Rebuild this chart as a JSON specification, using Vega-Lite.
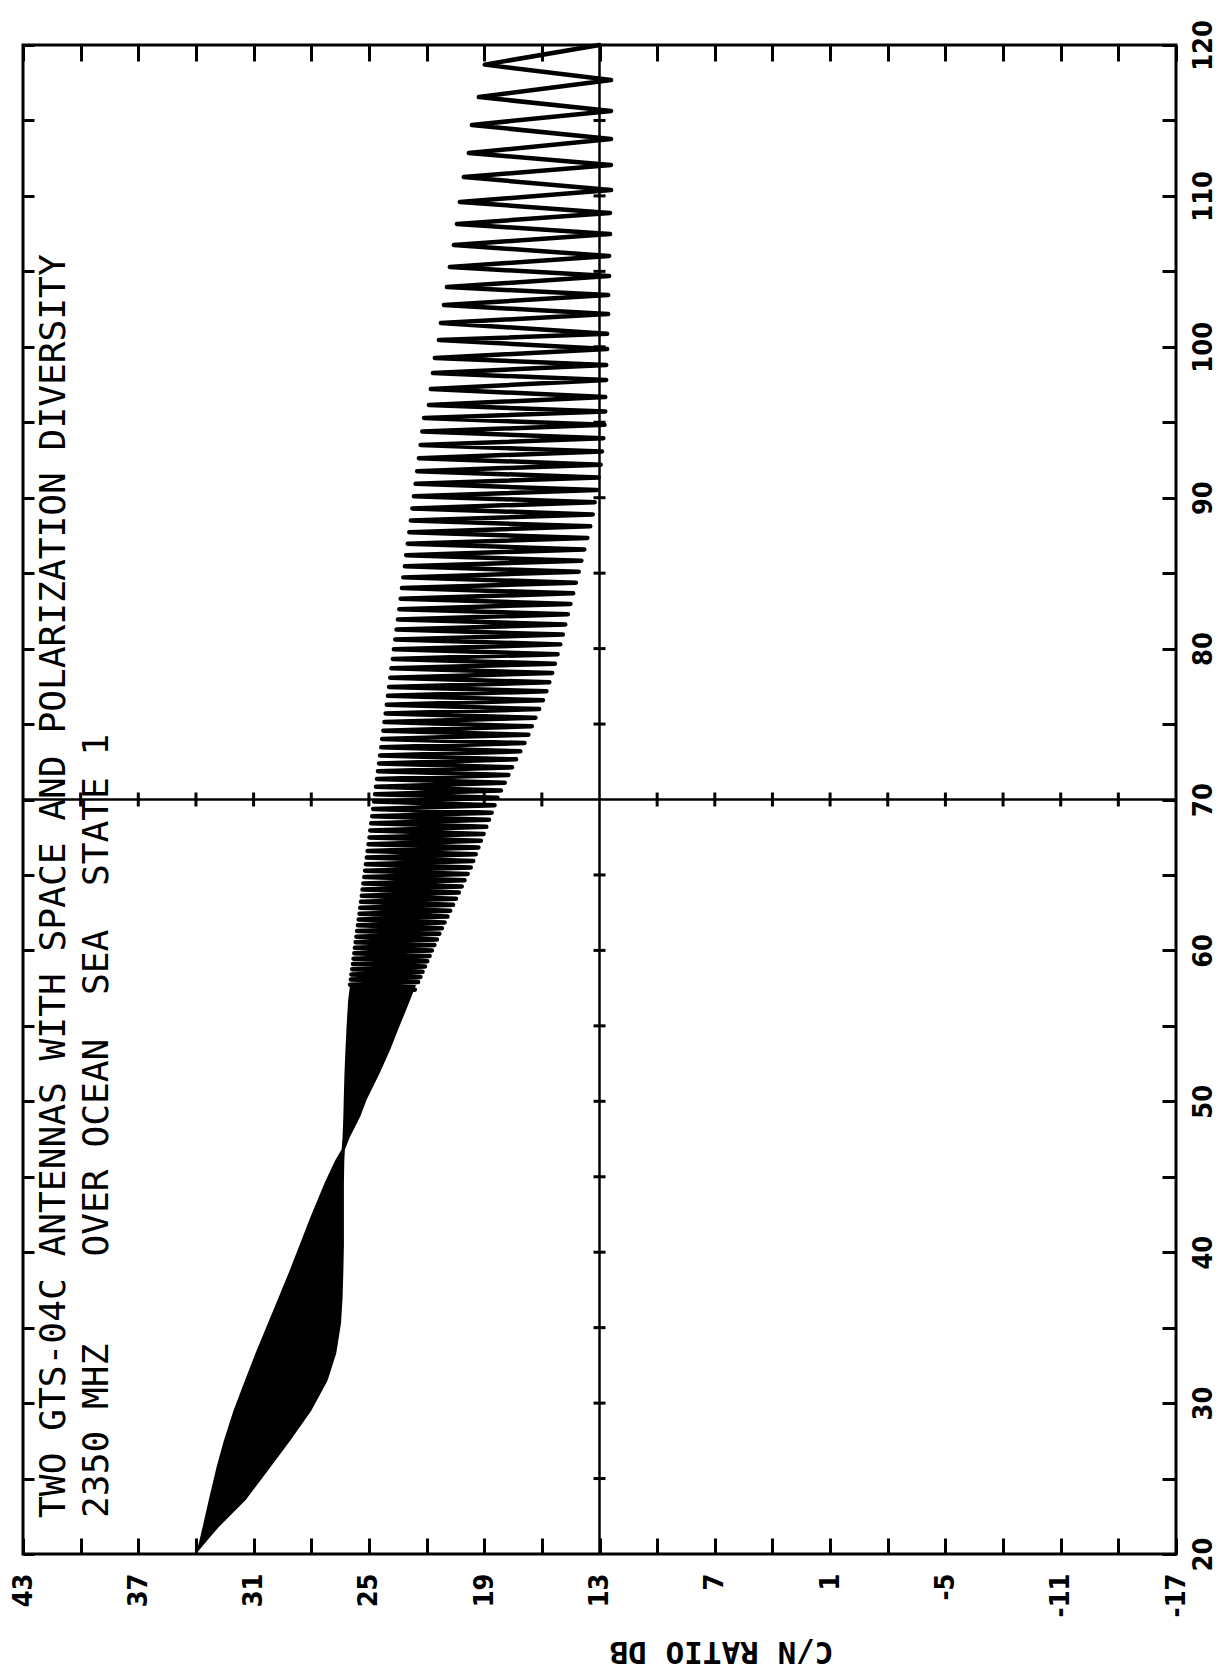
{
  "$schema": "https://vega.github.io/schema/vega-lite/v6.json",
  "width": 1153,
  "height": 1509,
  "autosize": {"type": "none"},
  "padding": {"left": 23, "top": 45, "right": 44, "bottom": 121},
  "background": "white",
  "config": {
    "view": {"stroke": "black", "strokeWidth": 3},
    "axis": {"domain": false, "grid": false, "tickColor": "black", "tickWidth": 3, "labelColor": "black", "titleColor": "black", "labelFlush": false, "labelOverlap": false, "labelBound": false}
  },
  "datasets": {
    "band": [
      {"d": 20.0, "hi": 34.0, "lo": 34.0},
      {"d": 21.0, "hi": 33.8, "lo": 33.35},
      {"d": 21.8, "hi": 33.65, "lo": 32.8},
      {"d": 23.6, "hi": 33.33, "lo": 31.4},
      {"d": 25.8, "hi": 32.92, "lo": 30.1},
      {"d": 27.5, "hi": 32.55, "lo": 29.1},
      {"d": 29.5, "hi": 32.05, "lo": 28.0},
      {"d": 31.5, "hi": 31.45, "lo": 27.15},
      {"d": 33.3, "hi": 30.9, "lo": 26.7},
      {"d": 35.3, "hi": 30.25, "lo": 26.45},
      {"d": 37.0, "hi": 29.7, "lo": 26.37},
      {"d": 38.7, "hi": 29.15, "lo": 26.33},
      {"d": 40.5, "hi": 28.6, "lo": 26.3},
      {"d": 42.3, "hi": 28.05, "lo": 26.3},
      {"d": 44.6, "hi": 27.3, "lo": 26.3},
      {"d": 46.1, "hi": 26.75, "lo": 26.28},
      {"d": 46.8, "hi": 26.42, "lo": 26.25},
      {"d": 47.6, "hi": 26.37, "lo": 26.0},
      {"d": 49.0, "hi": 26.33, "lo": 25.45},
      {"d": 50.1, "hi": 26.31, "lo": 25.12},
      {"d": 51.9, "hi": 26.27, "lo": 24.43},
      {"d": 53.4, "hi": 26.22, "lo": 23.9},
      {"d": 55.0, "hi": 26.16, "lo": 23.4},
      {"d": 56.7, "hi": 26.08, "lo": 22.86},
      {"d": 57.7, "hi": 25.98, "lo": 22.55}
    ],
    "zig": [
      {"d": 57.40, "c": 22.61}, {"d": 57.73, "c": 25.98}, {"d": 57.90, "c": 22.44}, {"d": 58.07, "c": 25.94},
      {"d": 58.24, "c": 22.32}, {"d": 58.41, "c": 25.91}, {"d": 58.58, "c": 22.21}, {"d": 58.75, "c": 25.87},
      {"d": 58.93, "c": 22.08}, {"d": 59.10, "c": 25.83}, {"d": 59.28, "c": 21.96}, {"d": 59.45, "c": 25.80},
      {"d": 59.63, "c": 21.84}, {"d": 59.81, "c": 25.76}, {"d": 59.99, "c": 21.72}, {"d": 60.17, "c": 25.73},
      {"d": 60.36, "c": 21.59}, {"d": 60.54, "c": 25.69}, {"d": 60.73, "c": 21.46}, {"d": 60.91, "c": 25.65},
      {"d": 61.10, "c": 21.33}, {"d": 61.28, "c": 25.61}, {"d": 61.47, "c": 21.20}, {"d": 61.66, "c": 25.57},
      {"d": 61.85, "c": 21.06}, {"d": 62.04, "c": 25.53}, {"d": 62.24, "c": 20.91}, {"d": 62.43, "c": 25.49},
      {"d": 62.63, "c": 20.77}, {"d": 62.82, "c": 25.45}, {"d": 63.02, "c": 20.62}, {"d": 63.22, "c": 25.41},
      {"d": 63.42, "c": 20.47}, {"d": 63.62, "c": 25.37}, {"d": 63.83, "c": 20.32}, {"d": 64.03, "c": 25.33},
      {"d": 64.24, "c": 20.17}, {"d": 64.44, "c": 25.29}, {"d": 64.65, "c": 20.02}, {"d": 64.86, "c": 25.24},
      {"d": 65.07, "c": 19.86}, {"d": 65.28, "c": 25.20}, {"d": 65.50, "c": 19.70}, {"d": 65.71, "c": 25.16},
      {"d": 65.93, "c": 19.57}, {"d": 66.15, "c": 25.11}, {"d": 66.37, "c": 19.44}, {"d": 66.59, "c": 25.07},
      {"d": 66.82, "c": 19.30}, {"d": 67.04, "c": 25.02}, {"d": 67.27, "c": 19.17}, {"d": 67.49, "c": 24.97},
      {"d": 67.72, "c": 19.03}, {"d": 67.95, "c": 24.93}, {"d": 68.19, "c": 18.89}, {"d": 68.42, "c": 24.88},
      {"d": 68.66, "c": 18.75}, {"d": 68.89, "c": 24.83}, {"d": 69.13, "c": 18.61}, {"d": 69.37, "c": 24.78},
      {"d": 69.62, "c": 18.46}, {"d": 69.86, "c": 24.73}, {"d": 70.11, "c": 18.31}, {"d": 70.35, "c": 24.68},
      {"d": 70.60, "c": 18.13}, {"d": 70.85, "c": 24.63}, {"d": 71.11, "c": 17.93}, {"d": 71.36, "c": 24.58},
      {"d": 71.62, "c": 17.74}, {"d": 71.87, "c": 24.53}, {"d": 72.13, "c": 17.55}, {"d": 72.39, "c": 24.47},
      {"d": 72.66, "c": 17.34}, {"d": 72.92, "c": 24.42}, {"d": 73.19, "c": 17.12}, {"d": 73.46, "c": 24.36},
      {"d": 73.74, "c": 16.90}, {"d": 74.01, "c": 24.31}, {"d": 74.29, "c": 16.70}, {"d": 74.56, "c": 24.25},
      {"d": 74.85, "c": 16.52}, {"d": 75.13, "c": 24.19}, {"d": 75.42, "c": 16.33}, {"d": 75.70, "c": 24.13},
      {"d": 75.99, "c": 16.14}, {"d": 76.28, "c": 24.07}, {"d": 76.58, "c": 15.94}, {"d": 76.87, "c": 24.01},
      {"d": 77.17, "c": 15.76}, {"d": 77.46, "c": 23.95}, {"d": 77.77, "c": 15.61}, {"d": 78.07, "c": 23.89},
      {"d": 78.38, "c": 15.46}, {"d": 78.69, "c": 23.83}, {"d": 79.00, "c": 15.32}, {"d": 79.31, "c": 23.76},
      {"d": 79.63, "c": 15.18}, {"d": 79.95, "c": 23.70}, {"d": 80.28, "c": 15.04}, {"d": 80.60, "c": 23.63},
      {"d": 80.93, "c": 14.91}, {"d": 81.26, "c": 23.56}, {"d": 81.60, "c": 14.78}, {"d": 81.93, "c": 23.49},
      {"d": 82.27, "c": 14.65}, {"d": 82.61, "c": 23.42}, {"d": 82.96, "c": 14.51}, {"d": 83.30, "c": 23.35},
      {"d": 83.66, "c": 14.37}, {"d": 84.01, "c": 23.28}, {"d": 84.37, "c": 14.23}, {"d": 84.72, "c": 23.21},
      {"d": 85.09, "c": 14.08}, {"d": 85.45, "c": 23.13}, {"d": 85.82, "c": 13.94}, {"d": 86.19, "c": 23.06},
      {"d": 86.57, "c": 13.79}, {"d": 86.95, "c": 22.98}, {"d": 87.33, "c": 13.63}, {"d": 87.71, "c": 22.90},
      {"d": 88.10, "c": 13.48}, {"d": 88.49, "c": 22.82}, {"d": 88.89, "c": 13.35}, {"d": 89.29, "c": 22.74},
      {"d": 89.70, "c": 13.25}, {"d": 90.10, "c": 22.66}, {"d": 90.51, "c": 13.14}, {"d": 90.92, "c": 22.57},
      {"d": 91.34, "c": 13.04}, {"d": 91.76, "c": 22.49}, {"d": 92.19, "c": 12.94}, {"d": 92.62, "c": 22.40},
      {"d": 93.06, "c": 12.87}, {"d": 93.49, "c": 22.31}, {"d": 93.94, "c": 12.80}, {"d": 94.38, "c": 22.22},
      {"d": 94.83, "c": 12.74}, {"d": 95.28, "c": 22.13}, {"d": 95.71, "c": 12.70}, {"d": 96.14, "c": 21.88},
      {"d": 96.67, "c": 12.70}, {"d": 97.20, "c": 21.78}, {"d": 97.80, "c": 12.65}, {"d": 98.26, "c": 21.67},
      {"d": 98.79, "c": 12.65}, {"d": 99.26, "c": 21.57}, {"d": 99.85, "c": 12.60}, {"d": 100.45, "c": 21.36},
      {"d": 100.86, "c": 12.60}, {"d": 101.58, "c": 21.26}, {"d": 102.17, "c": 12.55}, {"d": 102.77, "c": 21.10},
      {"d": 103.43, "c": 12.55}, {"d": 103.96, "c": 20.94}, {"d": 104.69, "c": 12.50}, {"d": 105.29, "c": 20.79},
      {"d": 106.02, "c": 12.50}, {"d": 106.75, "c": 20.58}, {"d": 107.47, "c": 12.45}, {"d": 108.14, "c": 20.42},
      {"d": 108.87, "c": 12.45}, {"d": 109.60, "c": 20.27}, {"d": 110.39, "c": 12.40}, {"d": 111.25, "c": 20.06},
      {"d": 112.05, "c": 12.40}, {"d": 112.84, "c": 19.80}, {"d": 113.77, "c": 12.40}, {"d": 114.70, "c": 19.64},
      {"d": 115.63, "c": 12.40}, {"d": 116.55, "c": 19.28}, {"d": 117.68, "c": 12.40}, {"d": 118.70, "c": 18.97},
      {"d": 120.00, "c": 13.00}
    ],
    "ticksD": [{"d": 25}, {"d": 30}, {"d": 35}, {"d": 40}, {"d": 45}, {"d": 50}, {"d": 55}, {"d": 60}, {"d": 65}, {"d": 75}, {"d": 80}, {"d": 85}, {"d": 90}, {"d": 95}, {"d": 100}, {"d": 105}, {"d": 110}, {"d": 115}],
    "ticksC": [{"c": 40}, {"c": 37}, {"c": 34}, {"c": 31}, {"c": 28}, {"c": 25}, {"c": 22}, {"c": 19}, {"c": 16}, {"c": 10}, {"c": 7}, {"c": 4}, {"c": 1}, {"c": -2}, {"c": -5}, {"c": -8}, {"c": -11}, {"c": -14}],
    "notes": [
      {"text": "TWO GTS-04C ANTENNAS WITH SPACE AND POLARIZATION DIVERSITY", "c": 40.82, "d": 22.39},
      {"text": "2350 MHZ\u00a0\u00a0\u00a0\u00a0OVER OCEAN\u00a0\u00a0SEA\u00a0\u00a0STATE 1", "c": 38.58, "d": 22.39}
    ],
    "vline": [{"c": 13}],
    "hline": [{"d": 70}]
  },
  "layer": [
    {
      "data": {"name": "band"},
      "mark": {"type": "area", "orient": "horizontal", "color": "black"},
      "encoding": {
        "x": {
          "field": "hi", "type": "quantitative",
          "scale": {"domain": [-17, 43], "reverse": true, "nice": false, "zero": false},
          "axis": {
            "orient": "bottom",
            "values": [-17, -14, -11, -8, -5, -2, 1, 4, 7, 10, 13, 16, 19, 22, 25, 28, 31, 34, 37, 40, 43],
            "tickSize": -16,
            "labelExpr": "(datum.value - 43) % 6 == 0 ? '' + datum.value : ''",
            "labelAngle": 270, "labelAlign": "right", "labelBaseline": "middle", "labelPadding": 35,
            "labelFont": "DejaVu Sans Condensed, Liberation Sans Narrow, DejaVu Sans", "labelFontSize": 27, "labelFontWeight": "bold",
            "title": "C/N RATIO DB", "titleAngle": 180, "titleX": 698, "titleY": 96, "titleAlign": "center", "titleBaseline": "middle",
            "titleFont": "DejaVu Sans Mono", "titleFontSize": 31, "titleFontWeight": "bold"
          }
        },
        "x2": {"field": "lo"},
        "y": {
          "field": "d", "type": "quantitative",
          "scale": {"domain": [20, 120], "nice": false, "zero": false},
          "axis": {
            "orient": "right",
            "values": [20, 25, 30, 35, 40, 45, 50, 55, 60, 65, 70, 75, 80, 85, 90, 95, 100, 105, 110, 115, 120],
            "tickSize": -14,
            "labelExpr": "datum.value % 10 == 0 ? '' + datum.value : ''",
            "labelAngle": 270, "labelAlign": "center", "labelBaseline": "top", "labelPadding": 28,
            "labelFont": "DejaVu Sans Condensed, Liberation Sans Narrow, DejaVu Sans", "labelFontSize": 27, "labelFontWeight": "bold",
            "title": null
          }
        }
      }
    },
    {
      "data": {"name": "zig"},
      "mark": {"type": "line", "color": "black", "strokeWidth": 4.5, "strokeJoin": "round", "strokeCap": "round"},
      "encoding": {
        "x": {
          "field": "c", "type": "quantitative",
          "scale": {"domain": [-17, 43], "reverse": true, "nice": false, "zero": false},
          "axis": {
            "orient": "top",
            "values": [-17, -14, -11, -8, -5, -2, 1, 4, 7, 10, 13, 16, 19, 22, 25, 28, 31, 34, 37, 40, 43],
            "tickSize": -16, "labels": false, "title": null
          }
        },
        "y": {
          "field": "d", "type": "quantitative",
          "scale": {"domain": [20, 120], "nice": false, "zero": false},
          "axis": {
            "orient": "left",
            "values": [20, 25, 30, 35, 40, 45, 50, 55, 60, 65, 70, 75, 80, 85, 90, 95, 100, 105, 110, 115, 120],
            "tickSize": -11, "labels": false, "title": null
          }
        },
        "order": {"field": "d", "type": "quantitative"}
      }
    },
    {
      "data": {"name": "vline"},
      "mark": {"type": "rule", "color": "black", "strokeWidth": 2.5},
      "encoding": {
        "x": {"field": "c", "type": "quantitative", "scale": {"domain": [-17, 43], "reverse": true, "nice": false, "zero": false}, "axis": null}
      }
    },
    {
      "data": {"name": "hline"},
      "mark": {"type": "rule", "color": "black", "strokeWidth": 2.5},
      "encoding": {
        "y": {"field": "d", "type": "quantitative", "scale": {"domain": [20, 120], "nice": false, "zero": false}, "axis": null}
      }
    },
    {
      "data": {"name": "ticksD"},
      "mark": {"type": "tick", "orient": "horizontal", "size": 12, "thickness": 3, "color": "black", "opacity": 1},
      "encoding": {
        "x": {"datum": 13, "type": "quantitative", "scale": {"domain": [-17, 43], "reverse": true, "nice": false, "zero": false}, "axis": null},
        "y": {"field": "d", "type": "quantitative", "scale": {"domain": [20, 120], "nice": false, "zero": false}, "axis": null}
      }
    },
    {
      "data": {"name": "ticksC"},
      "mark": {"type": "tick", "orient": "vertical", "size": 14, "thickness": 3, "color": "black", "opacity": 1},
      "encoding": {
        "x": {"field": "c", "type": "quantitative", "scale": {"domain": [-17, 43], "reverse": true, "nice": false, "zero": false}, "axis": null},
        "y": {"datum": 70, "type": "quantitative", "scale": {"domain": [20, 120], "nice": false, "zero": false}, "axis": null}
      }
    },
    {
      "data": {"name": "notes"},
      "mark": {"type": "text", "angle": 270, "align": "left", "baseline": "alphabetic", "font": "DejaVu Sans Mono", "fontSize": 36.2, "color": "black"},
      "encoding": {
        "x": {"field": "c", "type": "quantitative", "scale": {"domain": [-17, 43], "reverse": true, "nice": false, "zero": false}, "axis": null},
        "y": {"field": "d", "type": "quantitative", "scale": {"domain": [20, 120], "nice": false, "zero": false}, "axis": null},
        "text": {"field": "text"}
      }
    }
  ],
  "resolve": {"axis": {"x": "independent", "y": "independent"}}
}
